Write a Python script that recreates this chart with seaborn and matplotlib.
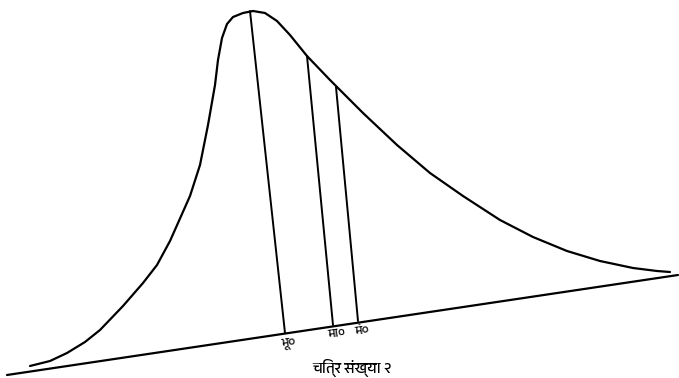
import numpy as np
import pandas as pd
import matplotlib
matplotlib.use("Agg")
import matplotlib.pyplot as plt
from matplotlib import font_manager
import seaborn as sns

# curve (pixel coords, y grows downward)
curve_x = [30, 50, 67, 85, 100, 123, 143, 157, 170, 178, 190, 200, 208, 215,
           218, 222, 227, 233, 243, 253, 265, 277, 290, 307, 330, 363, 397,
           430, 463, 500, 533, 567, 600, 633, 657, 670]
curve_y = [366, 361, 353, 342, 330, 306, 283, 265, 241, 223, 196, 165, 125, 85,
           60, 38, 24, 17, 13, 11, 13, 21, 35, 56, 80, 113, 145,
           173, 196, 220, 237, 251, 261, 268, 271, 272]

# base line (tilted scan)
base_x = [7, 678]
base_y = [375, 275]

# mode / median / mean verticals: top point on curve, foot on base line
vert_top_x = [250, 307, 336]
vert_top_y = [11, 56, 87]
vert_bot_x = [285, 333, 358]
vert_bot_y = [333, 325, 321]
vert_labels = ["भू०", "मा०", "मं०"]

caption = "चित्र संख्या २"

sns.set_style("white")

# pick a font with Devanagari if there is one
deva = [f.name for f in font_manager.fontManager.ttflist
        if "Devanagari" in f.name or "Lohit" in f.name or "FreeSans" in f.name
        or "Mukta" in f.name or "Hind" in f.name]
families = sorted(set(deva)) + ["DejaVu Sans"]
plt.rcParams["font.family"] = families

fig = plt.figure(figsize=(6.79, 3.78), dpi=100)
ax = fig.add_axes([0, 0, 1, 1])

df = pd.DataFrame({"x": curve_x, "y": curve_y})
sns.lineplot(data=df, x="x", y="y", sort=False, color="black", lw=1.6,
             solid_joinstyle="round", ax=ax)
sns.lineplot(x=base_x, y=base_y, color="black", lw=1.6, ax=ax)

for tx, ty, bx, by in zip(vert_top_x, vert_top_y, vert_bot_x, vert_bot_y):
    ax.plot([tx, bx], [ty, by], color="black", lw=1.4)

for bx, by, lab in zip(vert_bot_x, vert_bot_y, vert_labels):
    ax.text(bx + 4, by + 3, lab, fontsize=9, ha="center", va="top",
            rotation=8, color="black")

ax.text(352, 377, caption, fontsize=11, ha="center", va="bottom", color="black")

ax.set_xlim(0, 679)
ax.set_ylim(378, 0)
ax.set_axis_off()

fig.savefig("out.png", dpi=100)
plt.close(fig)
